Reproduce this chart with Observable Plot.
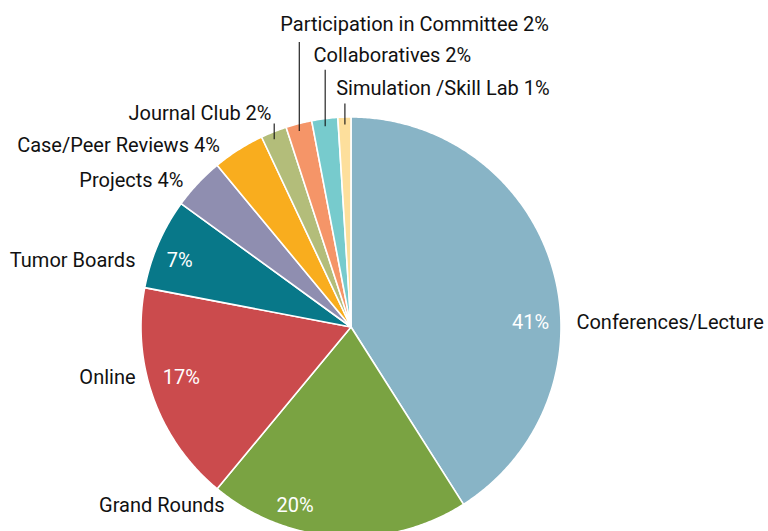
<!DOCTYPE html>
<html><head><meta charset="utf-8">
<script src="https://cdn.jsdelivr.net/npm/d3@7"></script>
<script src="https://cdn.jsdelivr.net/npm/@observablehq/plot@0.6"></script>
<style>
html,body{margin:0;padding:0;background:#fff;overflow:hidden;}
</style></head><body><div id="chart"></div>
<script>
// ---- data ----
const categories = ["Conferences/Lecture","Grand Rounds","Online","Tumor Boards","Projects","Case/Peer Reviews","Journal Club","Participation in Committee","Collaboratives","Simulation /Skill Lab"];
const percents = [41,20,17,7,4,4,2,2,2,1];
const colors = ["#88b4c6","#7aa342","#cb4b4d","#087889","#8f8eb0","#f9ad1e","#b3bd7a","#f59568","#77cbcd","#fddf9c"];

// ---- layout ----
const CX = 351, CY = 327, R = 210, W = 768, H = 531;
const FONT = "Roboto,'Liberation Sans',sans-serif";
const FS = 20;

const total = d3.sum(percents);
let acc = 0;
const slices = categories.map((name, i) => {
  const a0 = acc / total * 360; acc += percents[i]; const a1 = acc / total * 360;
  return {name, value: percents[i], a0, a1, mid: (a0 + a1) / 2};
});
const rad = d => d * Math.PI / 180;
const ux = (a, r = 1) => r * Math.sin(rad(a));
const uy = (a, r = 1) => r * Math.cos(rad(a));
const px = p => p / R; // pixel offset -> unit

// wedge outlines (arc points + centre), drawn by Plot.area
const wedgePts = slices.flatMap(s => {
  const n = Math.max(2, Math.ceil((s.a1 - s.a0) * 2));
  return d3.range(n + 1).map(k => {
    const a = s.a0 + (s.a1 - s.a0) * k / n;
    return {name: s.name, x1: 0, y1: 0, x2: ux(a), y2: uy(a)};
  });
});

// side labels: angle where label sits (y), gap from rim in px, optional inner % label
const sideLayout = {
  "Conferences/Lecture": {angle: 88.6, gap: 15, inner: {angle: 88.4, r: 0.853}, pct: false},
  "Grand Rounds": {angle: 212.2, gap: 15, inner: {angle: 197.6, r: 0.888}, pct: false},
  "Online": {angle: 256.2, gap: 12, inner: {angle: 253.6, r: 0.845}, pct: false},
  "Tumor Boards": {angle: 288.6, gap: 17, inner: {angle: 291.3, r: 0.878}, pct: false},
  "Projects": {angle: 314.4, gap: 18, pct: true},
  "Case/Peer Reviews": {angle: 330.1, gap: 27, pct: true}
};
// leader labels: line top (unit y), text centre (unit y), text offset from line (px), anchor
const leaderLayout = {
  "Journal Club": {top: 0.971, ty: 1.019, dx: -2.7, anchor: "end"},
  "Participation in Committee": {top: 1.359, ty: 1.444, dx: -19, anchor: "start"},
  "Collaboratives": {top: 1.227, ty: 1.293, dx: -11.6, anchor: "start"},
  "Simulation /Skill Lab": {top: 1.067, ty: 1.139, dx: -8.7, anchor: "start"}
};

const sideLabels = slices.filter(s => sideLayout[s.name]).map(s => {
  const L = sideLayout[s.name];
  const right = L.angle < 180;
  return {
    text: L.pct ? `${s.name} ${s.value}%` : s.name,
    x: ux(L.angle) + (right ? 1 : -1) * px(L.gap),
    y: uy(L.angle), right
  };
});
const innerLabels = slices.filter(s => sideLayout[s.name] && sideLayout[s.name].inner).map(s => {
  const I = sideLayout[s.name].inner;
  return {text: `${s.value}%`, x: ux(I.angle, I.r), y: uy(I.angle, I.r)};
});
const leaders = slices.filter(s => leaderLayout[s.name]).map(s => {
  const L = leaderLayout[s.name];
  const lx = ux(s.mid);
  return {
    name: s.name, text: `${s.name} ${s.value}%`, anchor: L.anchor,
    x: lx, y1: uy(s.mid) - px(7), y2: L.top,
    tx: lx + px(L.dx), ty: L.ty
  };
});

const chart = Plot.plot({
  width: W, height: H,
  margin: 0,
  x: {domain: [-1, 1], range: [CX - R, CX + R], axis: null},
  y: {domain: [-1, 1], range: [CY + R, CY - R], axis: null},
  color: {domain: categories, range: colors},
  style: {fontFamily: FONT, fontSize: FS + "px", background: "white", overflow: "hidden"},
  marks: [
    Plot.area(wedgePts, {x1: "x1", y1: "y1", x2: "x2", y2: "y2", z: "name", fill: "name",
      stroke: "white", strokeWidth: 1.6, strokeLinejoin: "round", curve: "linear"}),
    Plot.link(leaders, {x1: "x", y1: "y1", x2: "x", y2: "y2", stroke: "#111", strokeWidth: 1.1}),
    Plot.text(leaders.filter(d => d.anchor === "start"), {x: "tx", y: "ty", text: "text", textAnchor: "start", fill: "#111", fontSize: FS}),
    Plot.text(leaders.filter(d => d.anchor === "end"), {x: "tx", y: "ty", text: "text", textAnchor: "end", fill: "#111", fontSize: FS}),
    Plot.text(sideLabels.filter(d => d.right), {x: "x", y: "y", text: "text", textAnchor: "start", fill: "#111", fontSize: FS}),
    Plot.text(sideLabels.filter(d => !d.right), {x: "x", y: "y", text: "text", textAnchor: "end", fill: "#111", fontSize: FS}),
    Plot.text(innerLabels, {x: "x", y: "y", text: "text", textAnchor: "middle", fill: "white", fontSize: FS})
  ]
});
document.getElementById("chart").append(chart);
</script></body></html>
